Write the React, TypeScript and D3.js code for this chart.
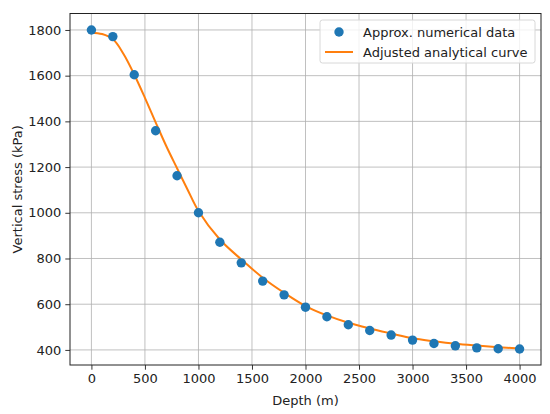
import * as d3 from 'd3';
import { useRef, useEffect } from 'react';

// numerical points (depth m, stress kPa)
const depths = [0, 200, 400, 600, 800, 1000, 1200, 1400, 1600, 1800, 2000, 2200, 2400, 2600, 2800, 3000, 3200, 3400, 3600, 3800, 4000];
const stressPoints = [1800, 1771, 1604, 1359, 1162, 1000, 871, 781, 701, 641, 587, 545, 510, 485, 465, 443, 428, 418, 409, 405, 404];

// analytical curve
const curveDepths = [0, 100, 200, 300, 400, 500, 600, 700, 800, 900, 1000, 1200, 1400, 1600, 1800, 2000, 2200, 2400, 2600, 2800, 3000, 3200, 3400, 3600, 3800, 4000];
const curveStress = [1788, 1782, 1760, 1695, 1605, 1503, 1396, 1291, 1195, 1100, 1008, 883, 796, 716, 650, 592, 551, 519, 494, 472, 451, 438, 427, 419, 412, 406];

const xTicks = [0, 500, 1000, 1500, 2000, 2500, 3000, 3500, 4000];
const yTicks = [400, 600, 800, 1000, 1200, 1400, 1600, 1800];

const legendLabels = ['Approx. numerical data', 'Adjusted analytical curve'];

const W = 550;
const H = 414;
const FONT = '"DejaVu Sans", sans-serif';

export default function App() {
    const svgRef = useRef<SVGSVGElement>(null);

    useEffect(() => {
        if (!svgRef.current) return;
        const svg = d3.select(svgRef.current);
        svg.selectAll('*').remove();

        const left = 70, right = 541, top = 13.5, bottom = 365;

        const x = d3.scaleLinear().domain([-200, 4200]).range([left, right]);
        const y = d3.scaleLinear().domain([334, 1872]).range([bottom, top]);

        svg.append('rect').attr('width', W).attr('height', H).attr('fill', '#fff');

        // grid
        const grid = svg.append('g').attr('stroke', '#b0b0b0').attr('stroke-width', 0.8);
        grid.selectAll('.gx').data(xTicks).enter().append('line')
            .attr('x1', d => x(d)).attr('x2', d => x(d))
            .attr('y1', top).attr('y2', bottom);
        grid.selectAll('.gy').data(yTicks).enter().append('line')
            .attr('x1', left).attr('x2', right)
            .attr('y1', d => y(d)).attr('y2', d => y(d));

        // curve
        const line = d3.line<number>()
            .x((_, i) => x(curveDepths[i]))
            .y(d => y(d))
            .curve(d3.curveCatmullRom.alpha(0.5));
        svg.append('path')
            .datum(curveStress)
            .attr('d', line)
            .attr('fill', 'none')
            .attr('stroke', '#ff7f0e')
            .attr('stroke-width', 2);

        // points
        svg.selectAll('.pt').data(stressPoints).enter().append('circle')
            .attr('cx', (_, i) => x(depths[i]))
            .attr('cy', d => y(d))
            .attr('r', 4.7)
            .attr('fill', '#1f77b4');

        // axes
        const xAxis = svg.append('g')
            .attr('transform', `translate(0,${bottom})`)
            .call(d3.axisBottom(x).tickValues(xTicks).tickSize(4.7).tickPadding(4).tickFormat(d3.format('d')));
        const yAxis = svg.append('g')
            .attr('transform', `translate(${left},0)`)
            .call(d3.axisLeft(y).tickValues(yTicks).tickSize(4.7).tickPadding(4).tickFormat(d3.format('d')));
        [xAxis, yAxis].forEach(a => {
            a.select('.domain').remove();
            a.selectAll('line').attr('stroke', '#000').attr('stroke-width', 0.8);
            a.selectAll('text').attr('font-family', FONT).attr('font-size', 13).attr('fill', '#222');
        });

        // frame
        svg.append('rect')
            .attr('x', left).attr('y', top)
            .attr('width', right - left).attr('height', bottom - top)
            .attr('fill', 'none').attr('stroke', '#222').attr('stroke-width', 1);

        // axis labels
        svg.append('text')
            .attr('x', (left + right) / 2).attr('y', 405)
            .attr('text-anchor', 'middle')
            .attr('font-family', FONT).attr('font-size', 13).attr('fill', '#222')
            .text('Depth (m)');
        svg.append('text')
            .attr('transform', `translate(22,${(top + bottom) / 2}) rotate(-90)`)
            .attr('text-anchor', 'middle')
            .attr('font-family', FONT).attr('font-size', 13).attr('fill', '#222')
            .text('Vertical stress (kPa)');

        // legend
        const lg = svg.append('g');
        lg.append('rect')
            .attr('x', 320).attr('y', 20).attr('width', 215).attr('height', 43)
            .attr('rx', 2.5)
            .attr('fill', 'rgba(255,255,255,0.8)').attr('stroke', '#d8d8d8');
        lg.append('circle').attr('cx', 339).attr('cy', 32).attr('r', 4.7).attr('fill', '#1f77b4');
        lg.append('line').attr('x1', 325).attr('x2', 353).attr('y1', 52).attr('y2', 52)
            .attr('stroke', '#ff7f0e').attr('stroke-width', 2);
        lg.selectAll('.lt').data(legendLabels).enter().append('text')
            .attr('x', 363).attr('y', (_, i) => 32 + i * 20)
            .attr('dy', '0.35em')
            .attr('font-family', FONT).attr('font-size', 13).attr('fill', '#222')
            .text(d => d);
    }, []);

    return (
        <svg ref={svgRef} width={W} height={H}
            style={{ position: 'absolute', left: 0, top: 0, display: 'block' }} />
    );
}
